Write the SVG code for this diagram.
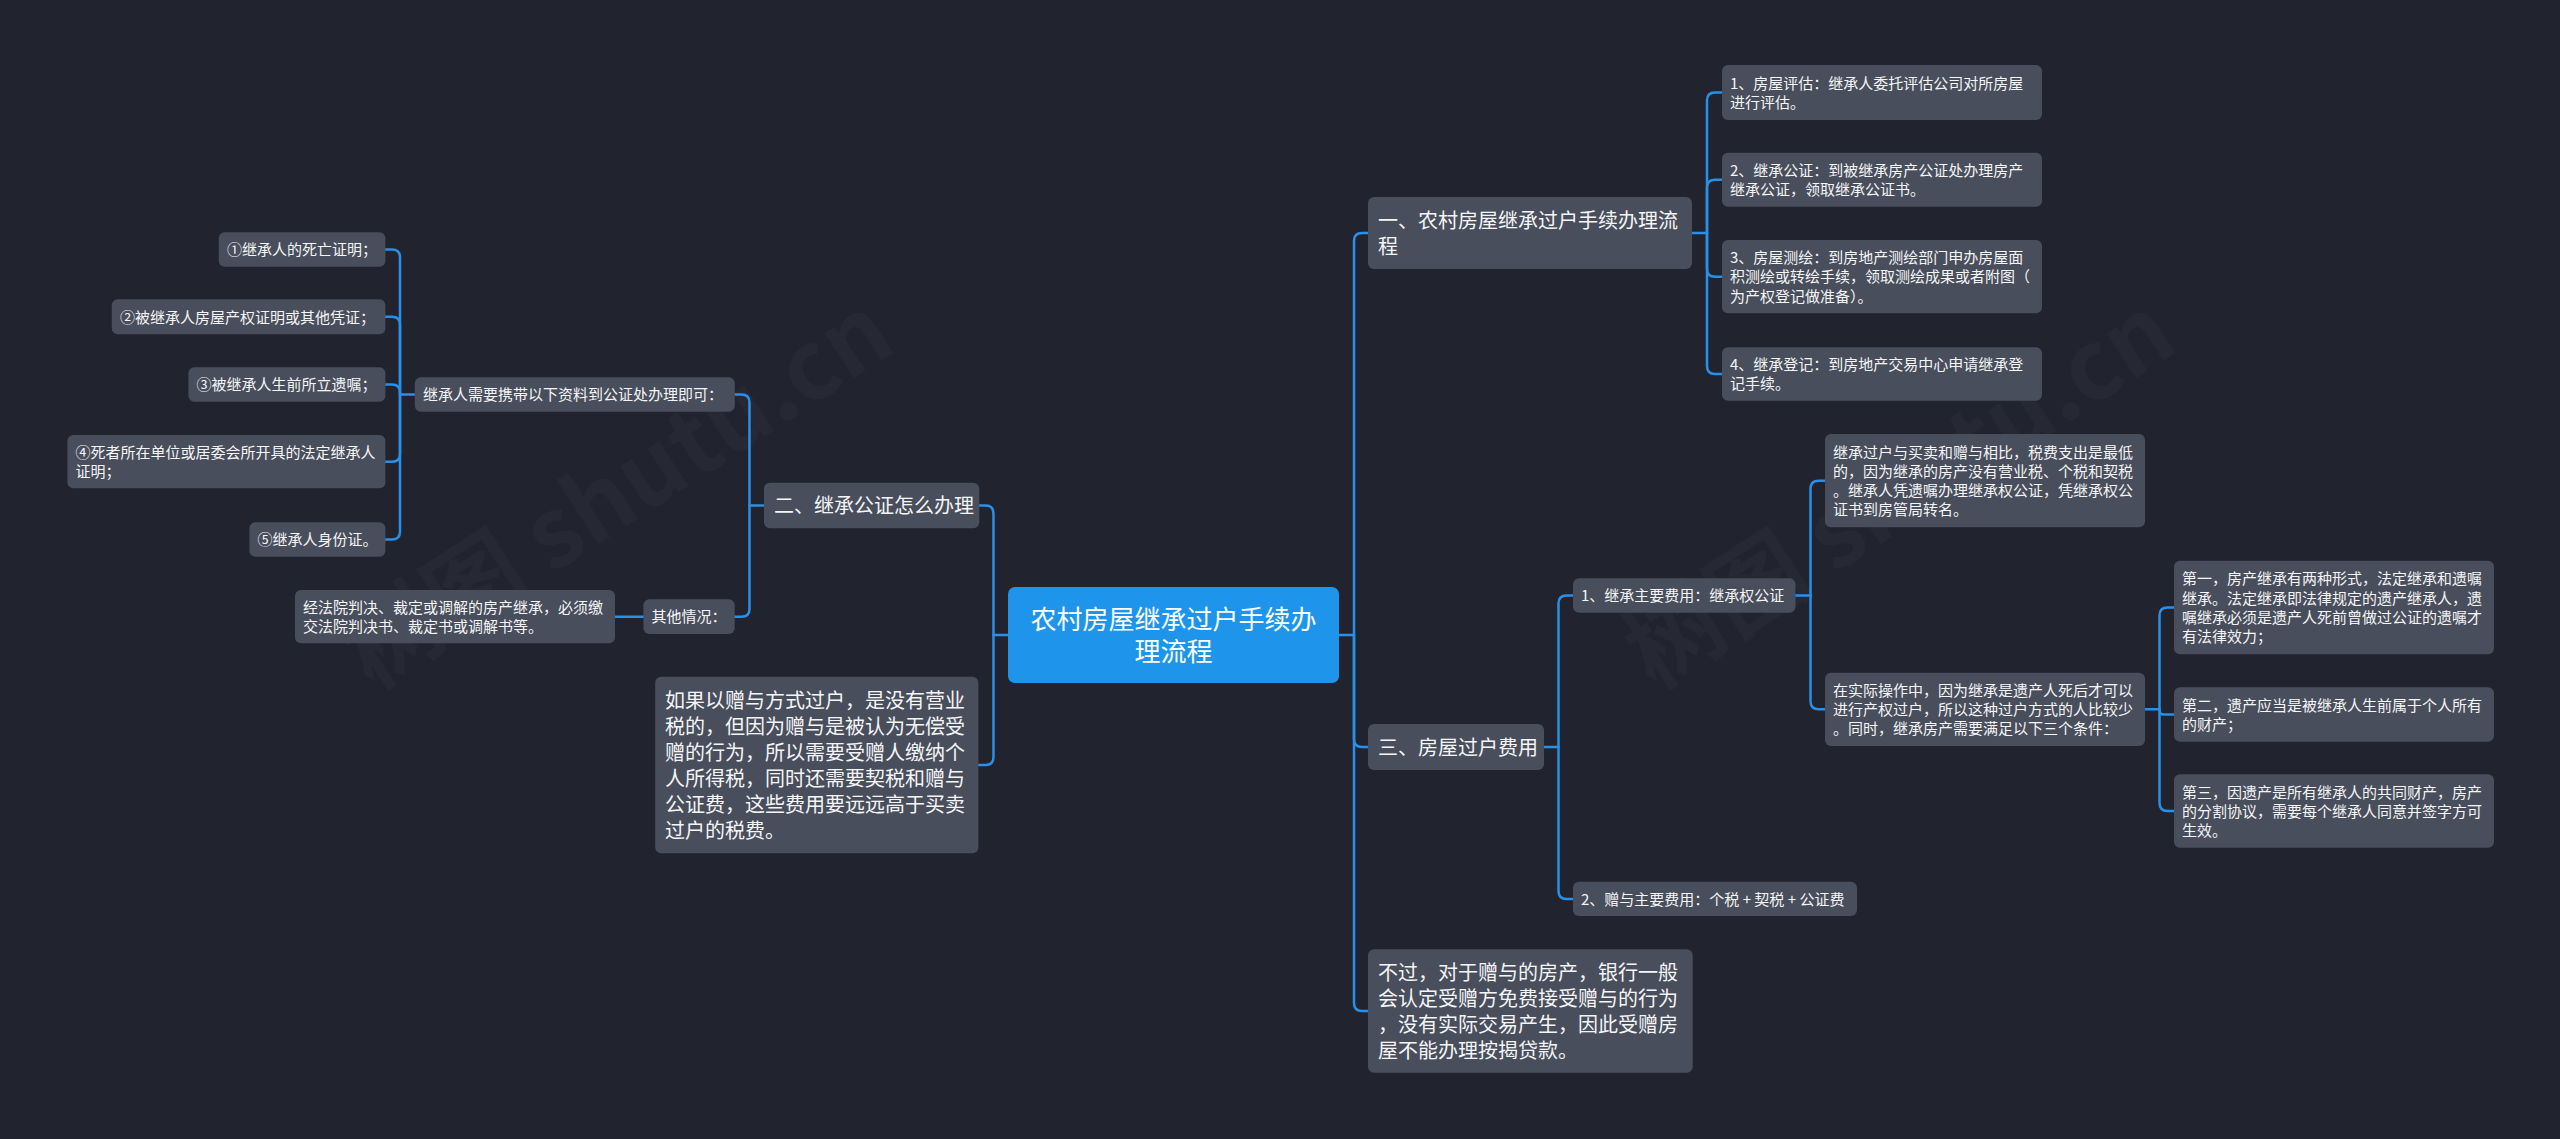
<svg xmlns="http://www.w3.org/2000/svg" width="2560" height="1139" viewBox="0 0 2560 1139">
<defs>
<style>
.bg{fill:#21242f}
.wm{font-family:"Noto Sans CJK SC","Liberation Sans",sans-serif;font-size:96px;font-weight:bold;fill:#ffffff;fill-opacity:0.022}
.box{fill:#494e5c}
.rootbox{fill:#1e95ea}
.t{font-family:"Noto Sans CJK SC","Noto Sans",sans-serif;fill:#f4f5f7}
.s{font-size:15px}
.l{font-size:20px}
.r{font-size:26px;fill:#ffffff}
.c{fill:none;stroke:#2a8fe6;stroke-width:2.5;stroke-linecap:round;stroke-linejoin:round}
</style>
</defs>
<rect class="bg" x="0" y="0" width="2560" height="1139"/>
<text class="wm" transform="translate(636,520) rotate(-33)" text-anchor="middle">树图 shutu.cn</text>
<text class="wm" transform="translate(1918,520) rotate(-33)" text-anchor="middle">树图 shutu.cn</text>

<g id="connectors">
<path class="c" d="M1339,635 H1354 V241 Q1354,233 1362,233 H1368"/>
<path class="c" d="M1354,635 V739 Q1354,747 1362,747 H1368"/>
<path class="c" d="M1354,635 V1003 Q1354,1011 1362,1011 H1368"/>
<path class="c" d="M1692,233 H1707 V100.5 Q1707,92.5 1715,92.5 H1722"/>
<path class="c" d="M1707,233 V187.7 Q1707,179.7 1715,179.7 H1722"/>
<path class="c" d="M1707,233 V268.7 Q1707,276.7 1715,276.7 H1722"/>
<path class="c" d="M1707,233 V366 Q1707,374 1715,374 H1722"/>
<path class="c" d="M1544,747 H1558.5 V603.5 Q1558.5,595.5 1566.5,595.5 H1573"/>
<path class="c" d="M1558.5,747 V891 Q1558.5,899 1566.5,899 H1573"/>
<path class="c" d="M1795.5,595.5 H1810.5 V488.7 Q1810.5,480.7 1818.5,480.7 H1825"/>
<path class="c" d="M1810.5,595.5 V701.3 Q1810.5,709.3 1818.5,709.3 H1825"/>
<path class="c" d="M2145,709.3 H2159.5 V615.5 Q2159.5,607.5 2167.5,607.5 H2174"/>
<path class="c" d="M2159.5,709.3 V710 Q2159.5,714.5 2164,714.5 H2174"/>
<path class="c" d="M2159.5,709.3 V803 Q2159.5,811 2167.5,811 H2174"/>
<path class="c" d="M1008,635 H993.5 V513.5 Q993.5,505.5 985.5,505.5 H979"/>
<path class="c" d="M993.5,635 V757 Q993.5,765 985.5,765 H979"/>
<path class="c" d="M764,505.5 H749.5 V402.5 Q749.5,394.5 741.5,394.5 H734.7"/>
<path class="c" d="M749.5,505.5 V608.7 Q749.5,616.7 741.5,616.7 H734.7"/>
<path class="c" d="M414.8,394.5 H400 V257.5 Q400,249.5 392,249.5 H385.4"/>
<path class="c" d="M400,394.5 V324.8 Q400,316.8 392,316.8 H385.4"/>
<path class="c" d="M400,394.5 V392.5 Q400,384.5 392,384.5 H385.4"/>
<path class="c" d="M400,394.5 V453.7 Q400,461.7 392,461.7 H385.4"/>
<path class="c" d="M400,394.5 V531.5 Q400,539.5 392,539.5 H385.4"/>
<path class="c" d="M643.4,616.7 H615"/>
</g>

<g id="root">
<rect class="rootbox" x="1008" y="587" width="331" height="96" rx="7"/>
<text class="t r" text-anchor="middle" x="1173.5" y="629.2">农村房屋继承过户手续办<tspan x="1173.5" dy="31.5">理流程</tspan></text>
</g>

<g id="n-yi">
<rect class="box" x="1368" y="197" width="324" height="72" rx="6"/>
<text class="t l" x="1378" y="227.6">一、农村房屋继承过户手续办理流<tspan x="1378" dy="26">程</tspan></text>
</g>
<g id="n-yi-1">
<rect class="box" x="1722" y="65" width="320" height="55" rx="6"/>
<text class="t s" x="1730" y="88.6">1、房屋评估：继承人委托评估公司对所房屋<tspan x="1730" dy="19.2">进行评估。</tspan></text>
</g>
<g id="n-yi-2">
<rect class="box" x="1722" y="152.7" width="320" height="54" rx="6"/>
<text class="t s" x="1730" y="175.8">2、继承公证：到被继承房产公证处办理房产<tspan x="1730" dy="19.2">继承公证，领取继承公证书。</tspan></text>
</g>
<g id="n-yi-3">
<rect class="box" x="1722" y="240" width="320" height="73.3" rx="6"/>
<text class="t s" x="1730" y="263.2">3、房屋测绘：到房地产测绘部门申办房屋面<tspan x="1730" dy="19.2">积测绘或转绘手续，领取测绘成果或者附图（</tspan><tspan x="1730" dy="19.2">为产权登记做准备）。</tspan></text>
</g>
<g id="n-yi-4">
<rect class="box" x="1722" y="347.3" width="320" height="53.4" rx="6"/>
<text class="t s" x="1730" y="370.1">4、继承登记：到房地产交易中心申请继承登<tspan x="1730" dy="19.2">记手续。</tspan></text>
</g>

<g id="n-san">
<rect class="box" x="1368" y="724" width="176" height="46" rx="6"/>
<text class="t l" x="1378" y="754.6">三、房屋过户费用</text>
</g>
<g id="n-san-1">
<rect class="box" x="1573" y="578.3" width="222.5" height="34.4" rx="6"/>
<text class="t s" x="1581" y="601.2">1、继承主要费用：继承权公证</text>
</g>
<g id="n-san-1-a">
<rect class="box" x="1825" y="434" width="320" height="93.3" rx="6"/>
<text class="t s" x="1833" y="457.6">继承过户与买卖和赠与相比，税费支出是最低<tspan x="1833" dy="19.2">的，因为继承的房产没有营业税、个税和契税</tspan><tspan x="1833" dy="19.2">。继承人凭遗嘱办理继承权公证，凭继承权公</tspan><tspan x="1833" dy="19.2">证书到房管局转名。</tspan></text>
</g>
<g id="n-san-1-b">
<rect class="box" x="1825" y="672.7" width="320" height="73.3" rx="6"/>
<text class="t s" x="1833" y="695.8">在实际操作中，因为继承是遗产人死后才可以<tspan x="1833" dy="19.2">进行产权过户，所以这种过户方式的人比较少</tspan><tspan x="1833" dy="19.2">。同时，继承房产需要满足以下三个条件：</tspan></text>
</g>
<g id="n-tiao-1">
<rect class="box" x="2174" y="560.7" width="320" height="93.6" rx="6"/>
<text class="t s" x="2182" y="584.4">第一，房产继承有两种形式，法定继承和遗嘱<tspan x="2182" dy="19.2">继承。法定继承即法律规定的遗产继承人，遗</tspan><tspan x="2182" dy="19.2">嘱继承必须是遗产人死前曾做过公证的遗嘱才</tspan><tspan x="2182" dy="19.2">有法律效力；</tspan></text>
</g>
<g id="n-tiao-2">
<rect class="box" x="2174" y="687.3" width="320" height="54.4" rx="6"/>
<text class="t s" x="2182" y="710.6">第二，遗产应当是被继承人生前属于个人所有<tspan x="2182" dy="19.2">的财产；</tspan></text>
</g>
<g id="n-tiao-3">
<rect class="box" x="2174" y="774.3" width="320" height="73.4" rx="6"/>
<text class="t s" x="2182" y="797.5">第三，因遗产是所有继承人的共同财产，房产<tspan x="2182" dy="19.2">的分割协议，需要每个继承人同意并签字方可</tspan><tspan x="2182" dy="19.2">生效。</tspan></text>
</g>
<g id="n-san-2">
<rect class="box" x="1573" y="881.7" width="284" height="34.3" rx="6"/>
<text class="t s" x="1581" y="904.7">2、赠与主要费用：个税 + 契税 + 公证费</text>
</g>
<g id="n-buguo">
<rect class="box" x="1368" y="949.3" width="324.7" height="123.4" rx="6"/>
<text class="t l" x="1378" y="979.6">不过，对于赠与的房产，银行一般<tspan x="1378" dy="26">会认定受赠方免费接受赠与的行为</tspan><tspan x="1378" dy="26">，没有实际交易产生，因此受赠房</tspan><tspan x="1378" dy="26">屋不能办理按揭贷款。</tspan></text>
</g>

<g id="n-er">
<rect class="box" x="764" y="482.7" width="215.3" height="45.6" rx="6"/>
<text class="t l" x="774" y="513.1">二、继承公证怎么办理</text>
</g>
<g id="n-er-1">
<rect class="box" x="414.8" y="377.3" width="320" height="34.4" rx="6"/>
<text class="t s" x="423" y="400.2">继承人需要携带以下资料到公证处办理即可：</text>
</g>
<g id="n-er-1-1">
<rect class="box" x="218.7" y="232.3" width="166.7" height="34.4" rx="6"/>
<text class="t s" x="227" y="255.2">①继承人的死亡证明；</text>
</g>
<g id="n-er-1-2">
<rect class="box" x="111.8" y="299.3" width="273.6" height="35" rx="6"/>
<text class="t s" x="120" y="322.5">②被继承人房屋产权证明或其他凭证；</text>
</g>
<g id="n-er-1-3">
<rect class="box" x="188.4" y="367.3" width="197" height="34.4" rx="6"/>
<text class="t s" x="196.5" y="390.2">③被继承人生前所立遗嘱；</text>
</g>
<g id="n-er-1-4">
<rect class="box" x="67.4" y="435" width="318" height="53.3" rx="6"/>
<text class="t s" x="75.5" y="457.8">④死者所在单位或居委会所开具的法定继承人<tspan x="75.5" dy="19.2">证明；</tspan></text>
</g>
<g id="n-er-1-5">
<rect class="box" x="249.4" y="522.3" width="136" height="34.4" rx="6"/>
<text class="t s" x="257.5" y="545.2">⑤继承人身份证。</text>
</g>
<g id="n-er-2">
<rect class="box" x="643.4" y="599.3" width="91.3" height="34.7" rx="6"/>
<text class="t s" x="651.5" y="622.4">其他情况：</text>
</g>
<g id="n-er-2-1">
<rect class="box" x="295" y="590" width="320" height="53.3" rx="6"/>
<text class="t s" x="303" y="612.8">经法院判决、裁定或调解的房产继承，必须缴<tspan x="303" dy="19.2">交法院判决书、裁定书或调解书等。</tspan></text>
</g>
<g id="n-ruguo">
<rect class="box" x="655.2" y="676.7" width="323.2" height="176.6" rx="6"/>
<text class="t l" x="665" y="707.6">如果以赠与方式过户，是没有营业<tspan x="665" dy="26">税的，但因为赠与是被认为无偿受</tspan><tspan x="665" dy="26">赠的行为，所以需要受赠人缴纳个</tspan><tspan x="665" dy="26">人所得税，同时还需要契税和赠与</tspan><tspan x="665" dy="26">公证费，这些费用要远远高于买卖</tspan><tspan x="665" dy="26">过户的税费。</tspan></text>
</g>
</svg>
